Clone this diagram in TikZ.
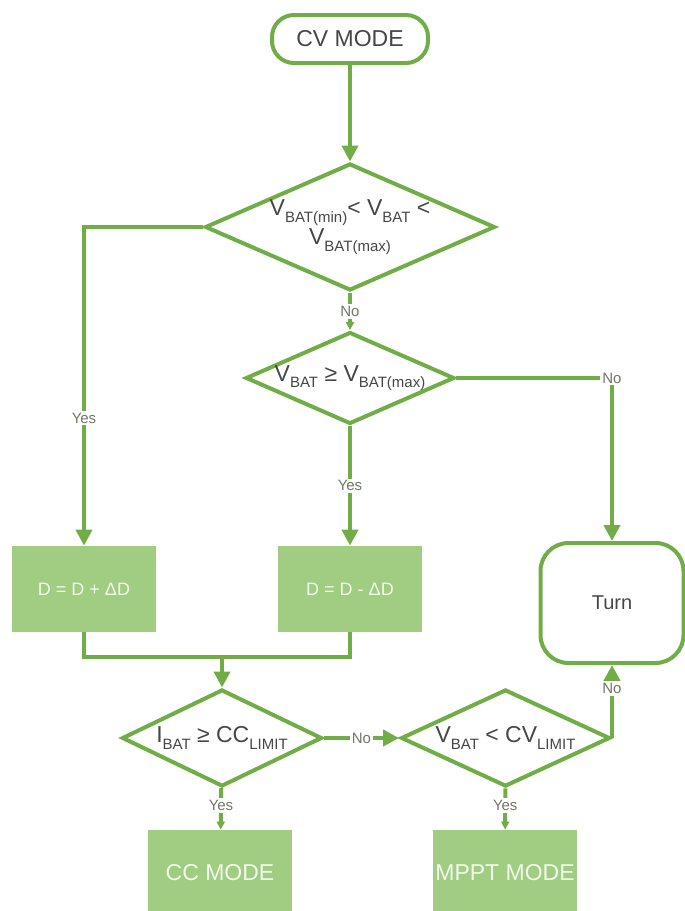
\documentclass[tikz,border=0pt]{standalone}
\usepackage{fontspec}
\setmainfont{Liberation Sans}
\usetikzlibrary{shapes.geometric, arrows.meta}
\definecolor{lgreen}{RGB}{112,173,71}
\definecolor{bgreen}{RGB}{160,205,130}
\definecolor{tgray}{RGB}{70,70,70}
\definecolor{lgray}{RGB}{112,120,104}
\definecolor{pale}{RGB}{242,249,236}
\newcommand{\lo}[1]{\raisebox{-0.55ex}{\fontsize{7.5}{8}\selectfont #1}}

\begin{document}
\begin{tikzpicture}[x=0.5pt, y=-0.5pt, align=center,
	flow/.style = {draw=lgreen, line width=2pt},
	term/.style = {draw=lgreen, line width=2pt, rounded corners=11pt, minimum width=78pt, minimum height=24pt, text=tgray, font=\fontsize{11.5}{13}\selectfont},
	dec/.style = {draw=lgreen, line width=2pt, diamond, inner sep=0pt, text=tgray, font=\fontsize{11.5}{14.5}\selectfont},
	act/.style = {fill=bgreen, inner sep=1pt, minimum width=72pt, minimum height=43pt, text=pale, font=\fontsize{11.5}{13}\selectfont},
	lbl/.style = {fill=white, inner sep=1pt, text=lgray, font=\fontsize{7.5}{9}\selectfont},
	big/.style = {-{Triangle[length=8pt, width=8pt]}},
	small/.style = {-{Triangle[length=4pt, width=4pt]}}]
	\clip (0,0) rectangle (685,911);
	\node[term] (cv) at (350,39) {CV MODE};
	\node[dec, minimum width=145pt, minimum height=63.5pt, shape aspect=2.28] (d1) at (350,227) {V\lo{BAT(min)}< V\lo{BAT} <\\V\lo{BAT(max)}};
	\node[dec, minimum width=102pt, minimum height=45pt, shape aspect=2.27] (d2) at (350,378) {V\lo{BAT} ≥ V\lo{BAT(max)}};
	\node[act, font=\fontsize{9}{11}\selectfont] (plus) at (84,589) {D = D + ΔD};
	\node[act, font=\fontsize{9}{11}\selectfont] (minus) at (350,589) {D = D - ΔD};
	\node[term, rounded corners=14pt, minimum width=71.5pt, minimum height=60pt, font=\fontsize{10}{12}\selectfont] (turn) at (612,603) {Turn};
	\node[dec, minimum width=100pt, minimum height=48.5pt, shape aspect=2.06] (d3) at (222,738) {I\lo{BAT} ≥ CC\lo{LIMIT}};
	\node[dec, minimum width=104.5pt, minimum height=48.5pt, shape aspect=2.15] (d4) at (505.5,738) {V\lo{BAT} < CV\lo{LIMIT}};
	\node[act] (cc) at (220,873) {CC MODE};
	\node[act] (mppt) at (505,873) {MPPT MODE};
	\coordinate (mg) at (222,657);
	\draw[flow, big] (cv) -- (d1);
	\draw[flow, big] (d1.west) -| node[lbl, pos=0.8] {Yes} (plus.north);
	\draw[flow, small] (d1) -- node[lbl] {No} (d2);
	\draw[flow, big] (d2.east) -| node[lbl, pos=0.5] {No} (turn.north);
	\draw[flow, big] (d2) -- node[lbl] {Yes} (minus);
	\draw[flow] (plus.south) |- (mg);
	\draw[flow] (minus.south) |- (mg);
	\draw[flow, big] (mg) -- (d3);
	\draw[flow, big] (d3) -- node[lbl] {No} (d4);
	\draw[flow, big] (d4.east) -- node[lbl, pos=0.68] {No} (turn.south);
	\draw[flow, small] (d3) -- node[lbl, pos=0.42] {Yes} (cc);
	\draw[flow, small] (d4) -- node[lbl, pos=0.42] {Yes} (mppt);
\end{tikzpicture}
\end{document}
